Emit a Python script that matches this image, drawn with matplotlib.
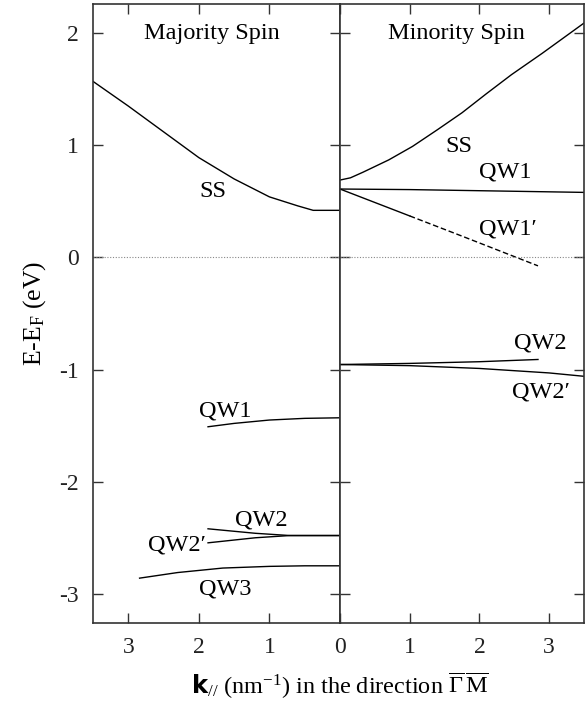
import numpy as np
import matplotlib.pyplot as plt

plt.rcParams['font.family'] = ['Liberation Serif', 'DejaVu Serif']
plt.rcParams['mathtext.fontset'] = 'custom'
plt.rcParams['mathtext.rm'] = 'Liberation Serif'
plt.rcParams['mathtext.it'] = 'Liberation Serif:italic'
plt.rcParams['mathtext.bf'] = 'DejaVu Sans:bold'

# majority spin bands, k in nm^-1, E - E_F in eV
maj_ss_k = [3.5, 3.0, 2.5, 2.0, 1.5, 1.0, 0.6, 0.38, 0.0]
maj_ss_e = [1.57, 1.35, 1.12, 0.89, 0.70, 0.54, 0.46, 0.42, 0.42]
maj_qw1_k = [1.87, 1.5, 1.0, 0.5, 0.0]
maj_qw1_e = [-1.51, -1.48, -1.45, -1.435, -1.43]
maj_qw2_k = [1.87, 1.2, 0.71, 0.0]
maj_qw2_e = [-2.42, -2.46, -2.48, -2.48]
maj_qw2p_k = [1.87, 1.2, 0.71, 0.0]
maj_qw2p_e = [-2.545, -2.50, -2.48, -2.48]
maj_qw3_k = [2.84, 2.3, 1.66, 1.0, 0.5, 0.0]
maj_qw3_e = [-2.86, -2.81, -2.77, -2.755, -2.75, -2.75]

# minority spin bands
min_ss_k = [0.0, 0.15, 0.33, 0.7, 1.04, 1.4, 1.75, 2.1, 2.46, 2.9, 3.5]
min_ss_e = [0.69, 0.71, 0.76, 0.87, 0.99, 1.14, 1.29, 1.46, 1.63, 1.82, 2.09]
min_qw1_k = [0.0, 1.0, 2.0, 3.0, 3.5]
min_qw1_e = [0.61, 0.605, 0.595, 0.585, 0.58]
min_qw1p_k = [0.0, 0.5, 1.0]
min_qw1p_e = [0.61, 0.49, 0.37]
min_qw1p_dash_k = [1.0, 1.75, 2.84]
min_qw1p_dash_e = [0.37, 0.19, -0.075]
min_qw2_k = [0.0, 1.0, 2.0, 2.84]
min_qw2_e = [-0.955, -0.945, -0.93, -0.91]
min_qw2p_k = [0.0, 1.0, 2.0, 3.0, 3.5]
min_qw2p_e = [-0.955, -0.965, -0.99, -1.03, -1.06]

y_ticks = [-3, -2, -1, 0, 1, 2]

fig = plt.figure(figsize=(5.85, 7.02), dpi=100)
ax1 = fig.add_axes([93 / 585, 79 / 702, 247 / 585, 619 / 702])
ax2 = fig.add_axes([340 / 585, 79 / 702, 244 / 585, 619 / 702])

lw = 1.0
ax1.plot(maj_ss_k, maj_ss_e, color='black', lw=lw)
ax1.plot(maj_qw1_k, maj_qw1_e, color='black', lw=lw)
ax1.plot(maj_qw2_k, maj_qw2_e, color='black', lw=lw)
ax1.plot(maj_qw2p_k, maj_qw2p_e, color='black', lw=lw)
ax1.plot(maj_qw3_k, maj_qw3_e, color='black', lw=lw)

ax2.plot(min_ss_k, min_ss_e, color='black', lw=lw)
ax2.plot(min_qw1_k, min_qw1_e, color='black', lw=lw)
ax2.plot(min_qw1p_k, min_qw1p_e, color='black', lw=lw)
ax2.plot(min_qw1p_dash_k, min_qw1p_dash_e, color='black', lw=lw, ls=(0, (4, 2)))
ax2.plot(min_qw2_k, min_qw2_e, color='black', lw=lw)
ax2.plot(min_qw2p_k, min_qw2p_e, color='black', lw=lw)

for ax in (ax1, ax2):
    ax.axhline(0, color='#888888', lw=0.8, ls=(0, (1, 1.5)))
    ax.set_ylim(-3.26, 2.26)
    ax.set_yticks(y_ticks)
    ax.tick_params(direction='in', length=7, width=1, colors='#333333',
                   labelcolor='#222222', labelsize=17,
                   top=True, right=True)
    ax.tick_params(axis='x', pad=10)
    ax.tick_params(axis='y', pad=10)
    for s in ax.spines.values():
        s.set_color('#333333')
        s.set_linewidth(1.2)

ax1.set_xlim(3.5, 0)
ax1.set_xticks([3, 2, 1, 0])
ax1.set_yticklabels([str(v) for v in y_ticks])
ax1.set_ylabel('E-E$_\\mathrm{F}$ (eV)', fontsize=18.5, labelpad=8)

ax2.set_xlim(0, 3.5)
ax2.set_xticks([0, 1, 2, 3])
ax2.set_xticklabels(['', '1', '2', '3'])
ax2.tick_params(labelleft=False)

fs = 17.5
ax1.text(1.82, 2.0, 'Majority Spin', fontsize=fs, ha='center', va='center')
ax1.text(1.8, 0.59, 'SS', fontsize=fs, ha='center', va='center')
ax1.text(1.63, -1.37, 'QW1', fontsize=fs, ha='center', va='center')
ax1.text(1.12, -2.34, 'QW2', fontsize=fs, ha='center', va='center')
ax1.text(2.31, -2.56, 'QW2\u2032', fontsize=fs, ha='center', va='center')
ax1.text(1.63, -2.96, 'QW3', fontsize=fs, ha='center', va='center')

ax2.text(1.67, 2.0, 'Minority Spin', fontsize=fs, ha='center', va='center')
ax2.text(1.7, 0.99, 'SS', fontsize=fs, ha='center', va='center')
ax2.text(2.37, 0.76, 'QW1', fontsize=fs, ha='center', va='center')
ax2.text(2.41, 0.25, 'QW1\u2032', fontsize=fs, ha='center', va='center')
ax2.text(2.88, -0.76, 'QW2', fontsize=fs, ha='center', va='center')
ax2.text(2.88, -1.2, 'QW2\u2032', fontsize=fs, ha='center', va='center')

fig.text(340 / 585, 17 / 702,
         r'$\mathbf{k}_{//}$ (nm$^{-1}$) in the direction $\overline{\Gamma}\,\overline{\mathrm{M}}$',
         fontsize=17.5, ha='center', va='center')

fig.savefig('out.png', dpi=100)
